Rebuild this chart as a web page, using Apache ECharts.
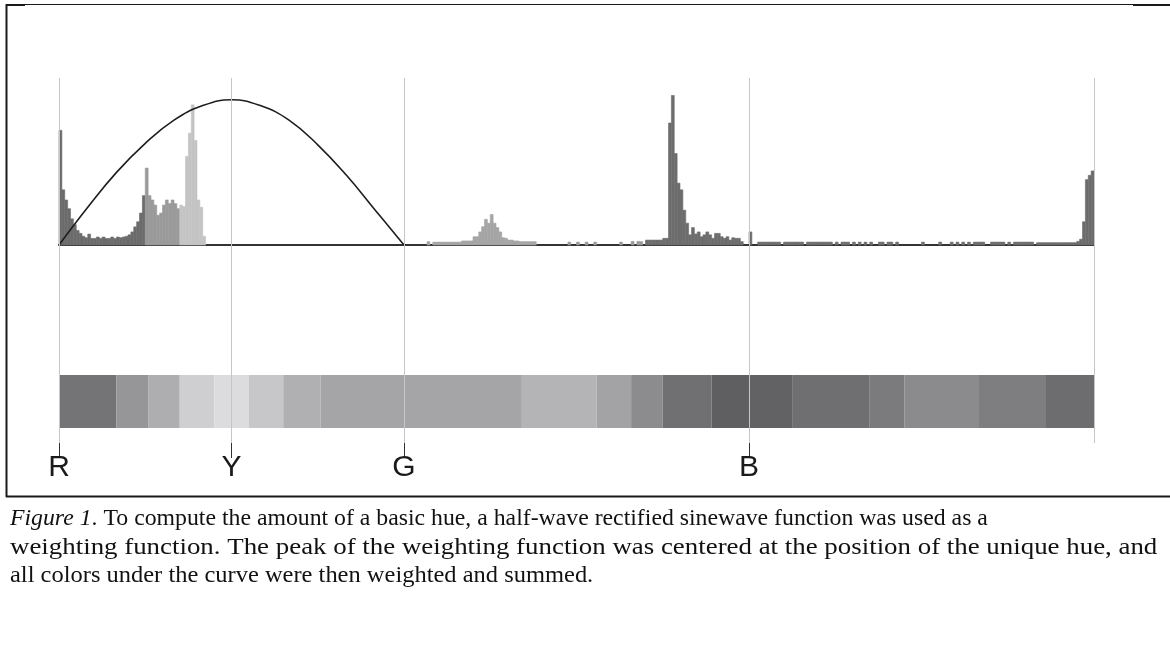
<!DOCTYPE html>
<html><head><meta charset="utf-8">
<script src="https://cdn.jsdelivr.net/npm/echarts/dist/echarts.min.js"></script>
<style>html,body{margin:0;padding:0;background:#fff;}#chart{width:1170px;height:647px;}</style>
</head><body><div id="chart"></div>
<script>
// ---- data (hue in degrees, 1-degree bins) ----
const hueCounts = [
  79,38,31,25,18,14,10,8,6,5,7.5,4.5,4.5,5.5,4.5,5.5,4.5,4.5,5.5,4.5,
  5.5,5,5.5,6,7,9,12.5,16,22,34,53,34,31,27.5,20.5,22,27.5,31,28.5,31,
  28.5,25,27.5,26.5,61,77,96.5,72,31,26,6,0,0,0,0,0,0,0,0,0,
  0,0,0,0,0,0,0,0,0,0,0,0,0,0,0,0,0,0,0,0,
  0,0,0,0,0,0,0,0,0,0,0,0,0,0,0,0,0,0,0,0,
  0,0,0,0,0,0,0,0,0,0,0,0,0,0,0,0,0,0,0,0,
  0,0,0,0,0,0,0,0,2.3,0,2,2,2,2,2,2,2,2,2,2,
  2.8,2.8,2.8,2.8,5.7,5.7,9,12.6,17.7,15,21,15,12,9,5,4.6,3.4,3.4,2.8,2.8,
  2.3,2.3,2.3,2.3,2.3,2.3,0,0,0,0,0,0,0,0,0,0,0,2,0,0,
  2,0,0,2,0,0,2,0,0,0,0,0,0,0,0,2,0,0,0,2.5,
  0,2.5,2.3,0,3.4,3.4,3.4,3.4,3.4,3.4,4.6,4.6,84,103,63,42.6,38,24,15,7,
  12,7.6,9,5.7,7,9,7,4.6,8,8,5.7,4.6,5.7,3.4,5,4.6,4.6,2.3,0,0,
  9,0,0,2,2,2,2,2,2,2,2,0,2,2,2,2,2,2,2,0,
  2,2,2,2,2,2,2,2,2,0,2,0,2,2,2,0,2,0,2,0,
  2,0,2,0,0,2,2,0,2,2,0,2,0,0,0,0,0,0,0,0,
  2,0,0,0,0,0,2,0,0,0,2,0,2,0,2,0,2,0,2,2,
  2,2,0,0,2,2,2,2,2,0,2,0,2,2,2,2,2,2,2,0,
  1.6,1.6,1.6,1.6,1.6,1.6,1.6,1.6,1.6,1.6,1.6,1.6,1.6,1.6,2.5,4,16,45,48,51
];
// weighting curve (hue, weight)
const curveHue = [0,10,20,30,40,50,60,70,80,90,100,110,120];
const curveWeight = [0,26,50,70,86,96,100,96,86,69,48,24,0];
// unique-hue positions and names
const hueTicks = [0,60,120,240];
const hueNames = ['R','Y','G','B'];
const guideHues = [0,60,120,240,360];
// colour strip: segment edges (hue) and grey shade of each segment
const stripEdges = [0,20,31,42,54,66,78,91,161,187,199,210,227,240,255,282,294,320,343,360];
const stripShades = ['#747476','#969698','#aeaeb0','#cfcfd1','#dcdcde','#c7c7c9','#b0b0b2','#a5a5a7','#b4b4b6','#a3a3a5','#8c8c8e','#707072','#5f5f61','#626264','#6f6f71','#7b7b7d','#8b8b8d','#7e7e80','#6d6d6f'];
const captionLines = [
  '{i|Figure 1}. To compute the amount of a basic hue, a half-wave rectified sinewave function was used as a',
  'weighting function. The peak of the weighting function was centered at the position of the unique hue, and',
  'all colors under the curve were then weighted and summed.'
];

// ---- styles ----
const barShadeBands = [[0,'#6b6b6b'],[30,'#9a9a9a'],[42,'#c4c4c4'],[100,'#a5a5a5'],[170,'#9a9a9a'],[203,'#6d6d6d']];
function shadeFor(h){ let c = barShadeBands[0][1]; for (const b of barShadeBands){ if (h >= b[0]) c = b[1]; } return c; }
const captionScale = [0.99, 1.12, 1.02];

const barData = hueCounts.map((v,h)=>[h,v]).filter(d=>d[1]>0);
const curveData = curveHue.map((h,i)=>[h,curveWeight[i]]);
const stripData = stripShades.map((c,i)=>[stripEdges[i], stripEdges[i+1], i]);

const chart = echarts.init(document.getElementById('chart'), null, {renderer:'canvas'});
const G = {left:59, right:76};
const captionGraphics = captionLines.map((t,i)=>({
  type:'text', x:10, y:507 + i*28.5, scaleX:captionScale[i],
  style:{text:t,fontSize:24,fontFamily:'Liberation Serif',fill:'#111',verticalAlign:'top',
    rich:{i:{fontStyle:'italic',fontSize:24,fontFamily:'Liberation Serif',fill:'#111'}}}
}));
chart.setOption({
  animation:false,
  grid:[
    {left:G.left, right:G.right, top:78, height:167},
    {left:G.left, right:G.right, top:375, height:53},
    {left:G.left, right:G.right, top:78, height:365}
  ],
  xAxis:[
    {gridIndex:0,type:'value',min:0,max:360,axisLine:{show:true,onZero:false,lineStyle:{color:'#333',width:2}},axisTick:{show:false},axisLabel:{show:false},splitLine:{show:false}},
    {gridIndex:1,type:'value',min:0,max:360,show:false},
    {gridIndex:2,type:'value',min:0,max:360,axisLine:{show:false},
      axisTick:{show:true,customValues:hueTicks,length:15,lineStyle:{color:'#333',width:1}},
      axisLabel:{show:true,customValues:hueTicks,margin:10,fontSize:30,fontFamily:'Liberation Sans',color:'#1a1a1a',
        formatter:(v)=>{const i=hueTicks.indexOf(Math.round(v));return i>=0?hueNames[i]:'';}},
      splitLine:{show:false}}
  ],
  yAxis:[
    {gridIndex:0,type:'value',min:0,max:115,show:false},
    {gridIndex:1,type:'value',min:0,max:1,show:false},
    {gridIndex:2,type:'value',min:0,max:1,show:false}
  ],
  series:[
    {type:'custom',xAxisIndex:1,yAxisIndex:1,z:1,silent:true,data:stripData,
      renderItem:(p,api)=>{const a=api.coord([api.value(0),1]);const b=api.coord([api.value(1),0]);
        return {type:'rect',shape:{x:a[0],y:a[1],width:b[0]-a[0],height:b[1]-a[1]},style:{fill:stripShades[api.value(2)]}};}},
    {type:'scatter',xAxisIndex:2,yAxisIndex:2,z:2,silent:true,symbolSize:0,data:[[0,0]],
      markLine:{silent:true,symbol:'none',label:{show:false},lineStyle:{color:'#c6c6c6',width:1,type:'solid'},
        data:guideHues.map(h=>({xAxis:h}))}},
    {type:'custom',xAxisIndex:0,yAxisIndex:0,z:3,silent:true,data:barData,
      renderItem:(p,api)=>{const h=api.value(0);const a=api.coord([h,api.value(1)]);const b=api.coord([h+1,0]);const c=shadeFor(h);
        return {type:'rect',shape:{x:a[0],y:a[1],width:b[0]-a[0],height:b[1]-a[1]},style:{fill:c,stroke:c,lineWidth:0.6}};}},
    {type:'line',xAxisIndex:0,yAxisIndex:0,z:4,silent:true,data:curveData,smooth:0.45,showSymbol:false,
      lineStyle:{color:'#1e1e1e',width:1.6}}
  ],
  graphic:[
    {type:'line',shape:{x1:6.5,y1:4,x2:6.5,y2:497},style:{stroke:'#1a1a1a',lineWidth:2}},
    {type:'line',shape:{x1:6,y1:4.5,x2:1170,y2:4.5},style:{stroke:'#1a1a1a',lineWidth:1}},
    {type:'line',shape:{x1:6,y1:5,x2:25,y2:5},style:{stroke:'#1a1a1a',lineWidth:2}},
    {type:'line',shape:{x1:1133,y1:5,x2:1170,y2:5},style:{stroke:'#1a1a1a',lineWidth:2}},
    {type:'line',shape:{x1:6,y1:496.5,x2:1170,y2:496.5},style:{stroke:'#1a1a1a',lineWidth:2}}
  ].concat(captionGraphics)
});
</script></body></html>
